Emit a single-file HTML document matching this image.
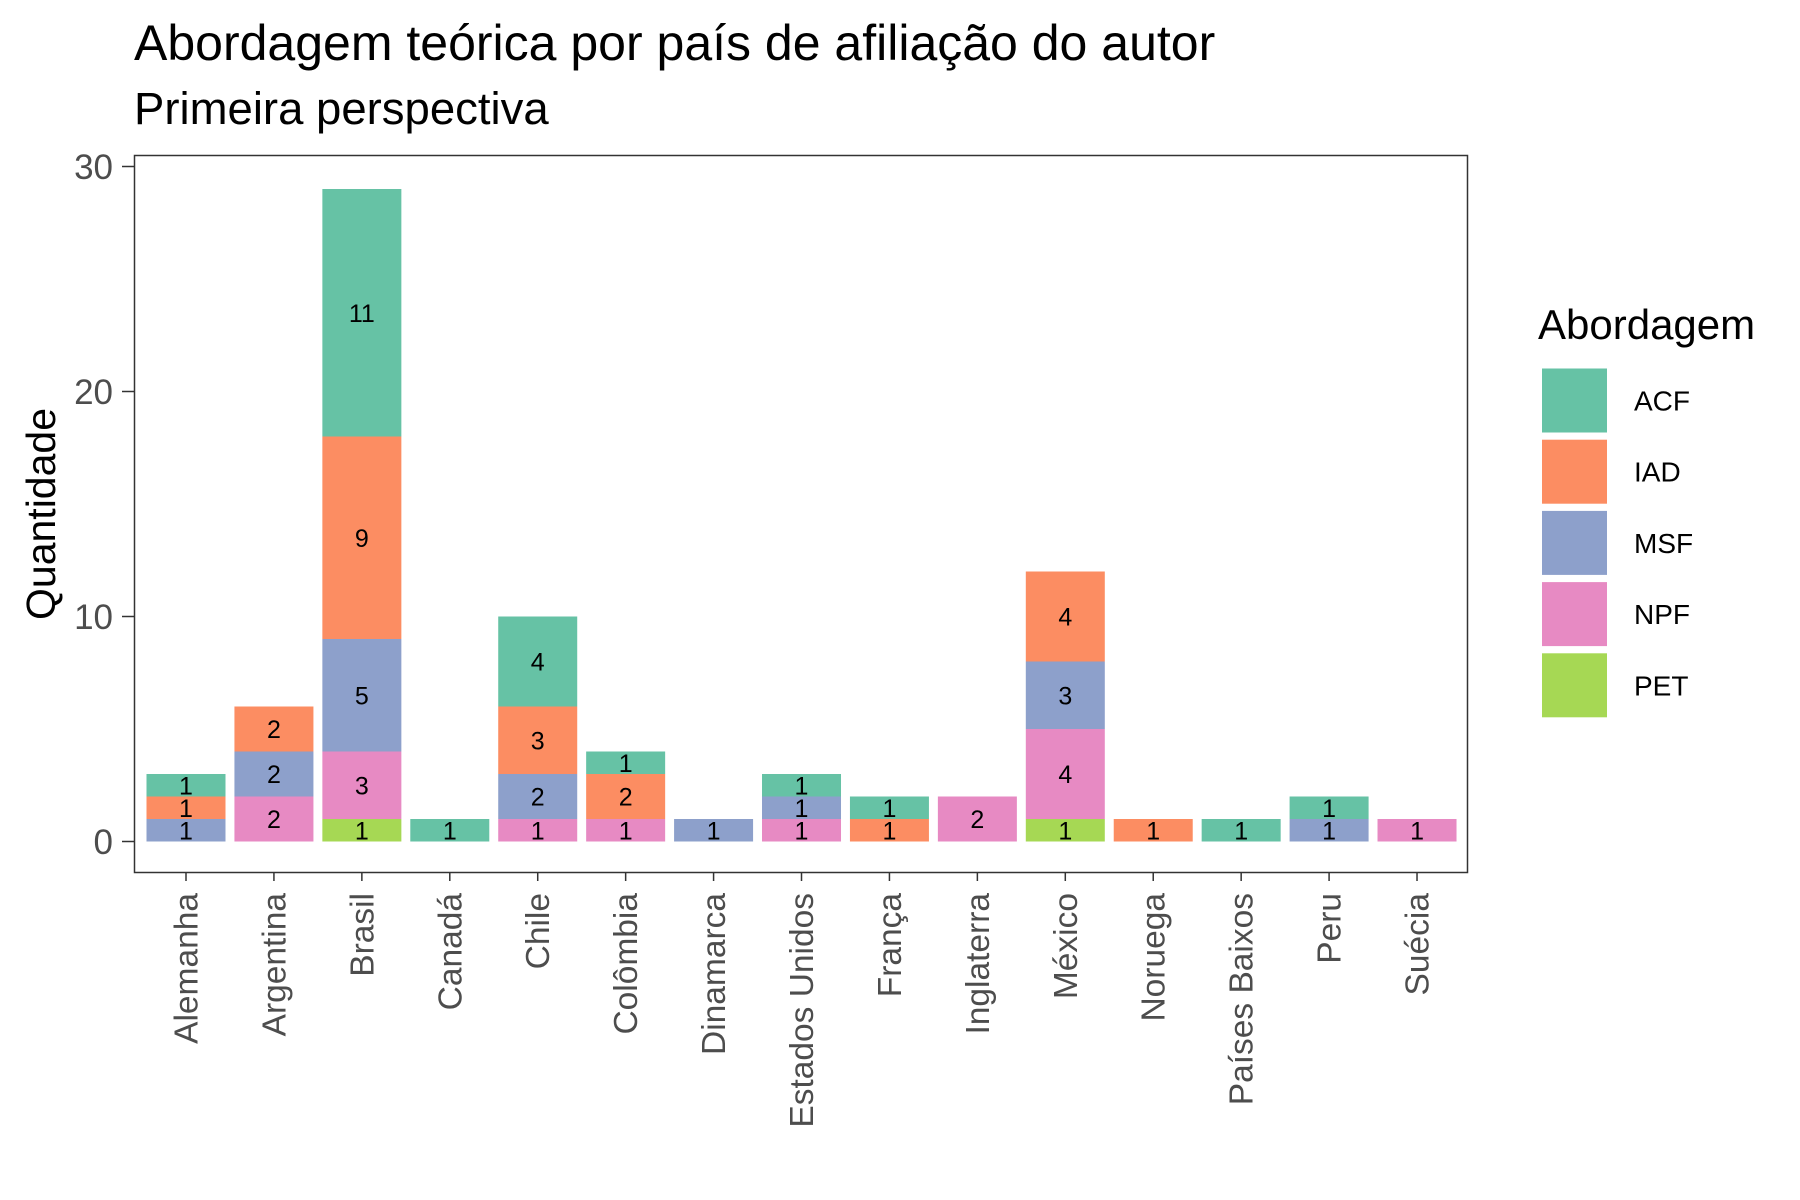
<!DOCTYPE html>
<html><head><meta charset="utf-8"><style>body{margin:0;background:#fff}svg{display:block;font-family:"Liberation Sans",sans-serif}</style></head>
<body>
<svg id="c" width="1800" height="1200">
<text x="134" y="60" font-size="50" fill="#000">Abordagem teórica por país de afiliação do autor</text>
<text x="134" y="124" font-size="45.5" fill="#000">Primeira perspectiva</text>
<text transform="translate(55,514) rotate(-90)" text-anchor="middle" font-size="41" fill="#000">Quantidade</text>
<g id="bars"></g><g id="axes"></g>
<rect x="134.5" y="155.5" width="1333" height="717" fill="none" stroke="#333" stroke-width="1.5"/>
<text x="1538" y="339" font-size="42" fill="#000">Abordagem</text>
<g id="legend"></g>
</svg>
<script>
const countries=["Alemanha","Argentina","Brasil","Canadá","Chile","Colômbia","Dinamarca","Estados Unidos","França","Inglaterra","México","Noruega","Países Baixos","Peru","Suécia"];
const series=["ACF","IAD","MSF","NPF","PET"];
const ACF=[1,0,11,1,4,1,0,1,1,0,0,0,1,1,0];
const IAD=[1,2,9,0,3,2,0,0,1,0,4,1,0,0,0];
const MSF=[1,2,5,0,2,0,1,1,0,0,3,0,0,1,0];
const NPF=[0,2,3,0,1,1,0,1,0,2,4,0,0,0,1];
const PET=[0,0,1,0,0,0,0,0,0,0,1,0,0,0,0];
const yTicks=[0,10,20,30];
const colors={ACF:"#66c2a5",IAD:"#fc8d62",MSF:"#8da0cb",NPF:"#e78ac3",PET:"#a6d854"};
const vals={ACF,IAD,MSF,NPF,PET};
const NS="http://www.w3.org/2000/svg";
const y=v=>841.5-v*22.5, x=i=>186+i*87.93, bw=79;
function mk(t,a,p){const e=document.createElementNS(NS,t);for(const k in a)e.setAttribute(k,a[k]);p.appendChild(e);return e;}
const bars=document.getElementById('bars'),axes=document.getElementById('axes'),leg=document.getElementById('legend');
const order=["PET","NPF","MSF","IAD","ACF"];
countries.forEach((c,i)=>{let base=0;order.forEach(s=>{const v=vals[s][i];if(!v)return;
const r=mk('rect',{x:x(i)-bw/2,y:y(base+v),width:bw,height:y(base)-y(base+v),fill:colors[s]},bars);


const t=mk('text',{x:x(i),y:(y(base)+y(base+v))/2+9,'text-anchor':'middle','font-size':25,fill:'#000'},bars);t.textContent=v;


base+=v;});
mk('line',{x1:x(i),x2:x(i),y1:873,y2:881,stroke:'#333','stroke-width':1.5},axes);
const l=mk('text',{transform:`translate(${x(i)+11.5},893) rotate(-90)`,'text-anchor':'end','font-size':33.5,fill:'#4d4d4d'},axes);l.textContent=c;


});
yTicks.forEach(v=>{mk('line',{x1:122,x2:134,y1:y(v),y2:y(v),stroke:'#333','stroke-width':1.5},axes);
const t=mk('text',{x:113,y:y(v)+12.5,'text-anchor':'end','font-size':35,fill:'#4d4d4d'},axes);t.textContent=v;

});
series.forEach((s,k)=>{const yy=368.5+k*71.2;
const r=mk('rect',{x:1542,y:yy,width:65,height:64,fill:colors[s]},leg);


const t=mk('text',{x:1634,y:yy+42,'font-size':28,fill:'#000'},leg);t.textContent=s;

});
</script>
</body></html>
